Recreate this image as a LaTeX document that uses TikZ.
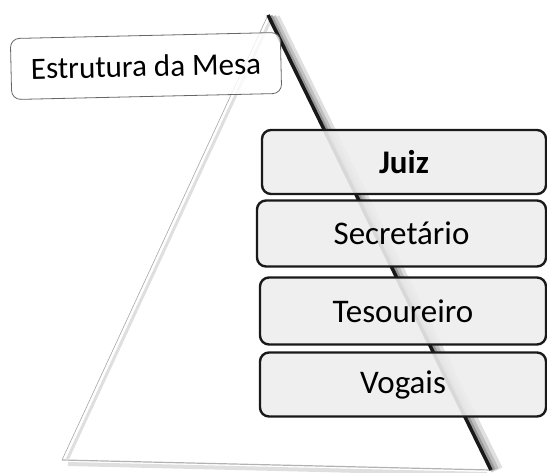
\documentclass[tikz,border=0pt]{standalone}
\usepackage{fontspec}
\setmainfont{Carlito}
\usetikzlibrary{calc}
\begin{document}
\begin{tikzpicture}[x=1pt,y=-1pt,
  rolebox/.style={draw=black!90, line width=2.4pt, rounded corners=9pt, fill=gray!14, fill opacity=0.9, text opacity=1,
    minimum width=284pt, minimum height=64pt, font=\fontsize{33}{38}\selectfont, inner sep=0pt},
  titlebox/.style={draw=gray!80!black, line width=0.8pt, rounded corners=9pt, fill=white, fill opacity=0.8, text opacity=1,
    minimum width=270pt, minimum height=61pt, font=\fontsize{31}{36}\selectfont, inner sep=0pt}]
\useasboundingbox (0,0) rectangle (547,472);
% triangle
\coordinate (apex) at (268,15);
\coordinate (bl) at (62,460);
\coordinate (br) at (491,470);
% bottom edge
\draw[gray!25, line width=4pt] ($(bl)+(6,4)$) -- ($(br)+(-4,4)$);
\draw[gray!60, line width=1.2pt] (bl) -- (br);
% left edge
\draw[gray!25, line width=3pt] ($(apex)+(3,4)$) -- ($(bl)+(5,0)$);
\draw[gray!70, line width=0.6pt] (apex) -- (bl);
% right edge (dark)
\draw[gray!25, line width=12pt] ($(apex)+(6,3)$) -- ($(br)+(6,0)$);
\draw[gray!50, line width=8pt] ($(apex)+(4,2)$) -- ($(br)+(4,0)$);
\draw[gray!80, line width=5pt] ($(apex)+(2,1)$) -- ($(br)+(2,0)$);
\draw[black!90, line width=3.5pt] (apex) -- (br);
% title
\node[titlebox, rotate=1.3] (title) at (146,66) {Estrutura da Mesa};
% boxes
\node[rolebox] (juiz) at (404,162) {\textbf{Juiz}};
\node[rolebox, minimum height=66pt, minimum width=289pt] (sec) at (401.5,233.5) {Secretário};
\node[rolebox, minimum height=67pt, minimum width=286pt] (tes) at (403,311) {Tesoureiro};
\node[rolebox, minimum width=286pt] (vog) at (403,384.5) {Vogais};
\end{tikzpicture}
\end{document}
